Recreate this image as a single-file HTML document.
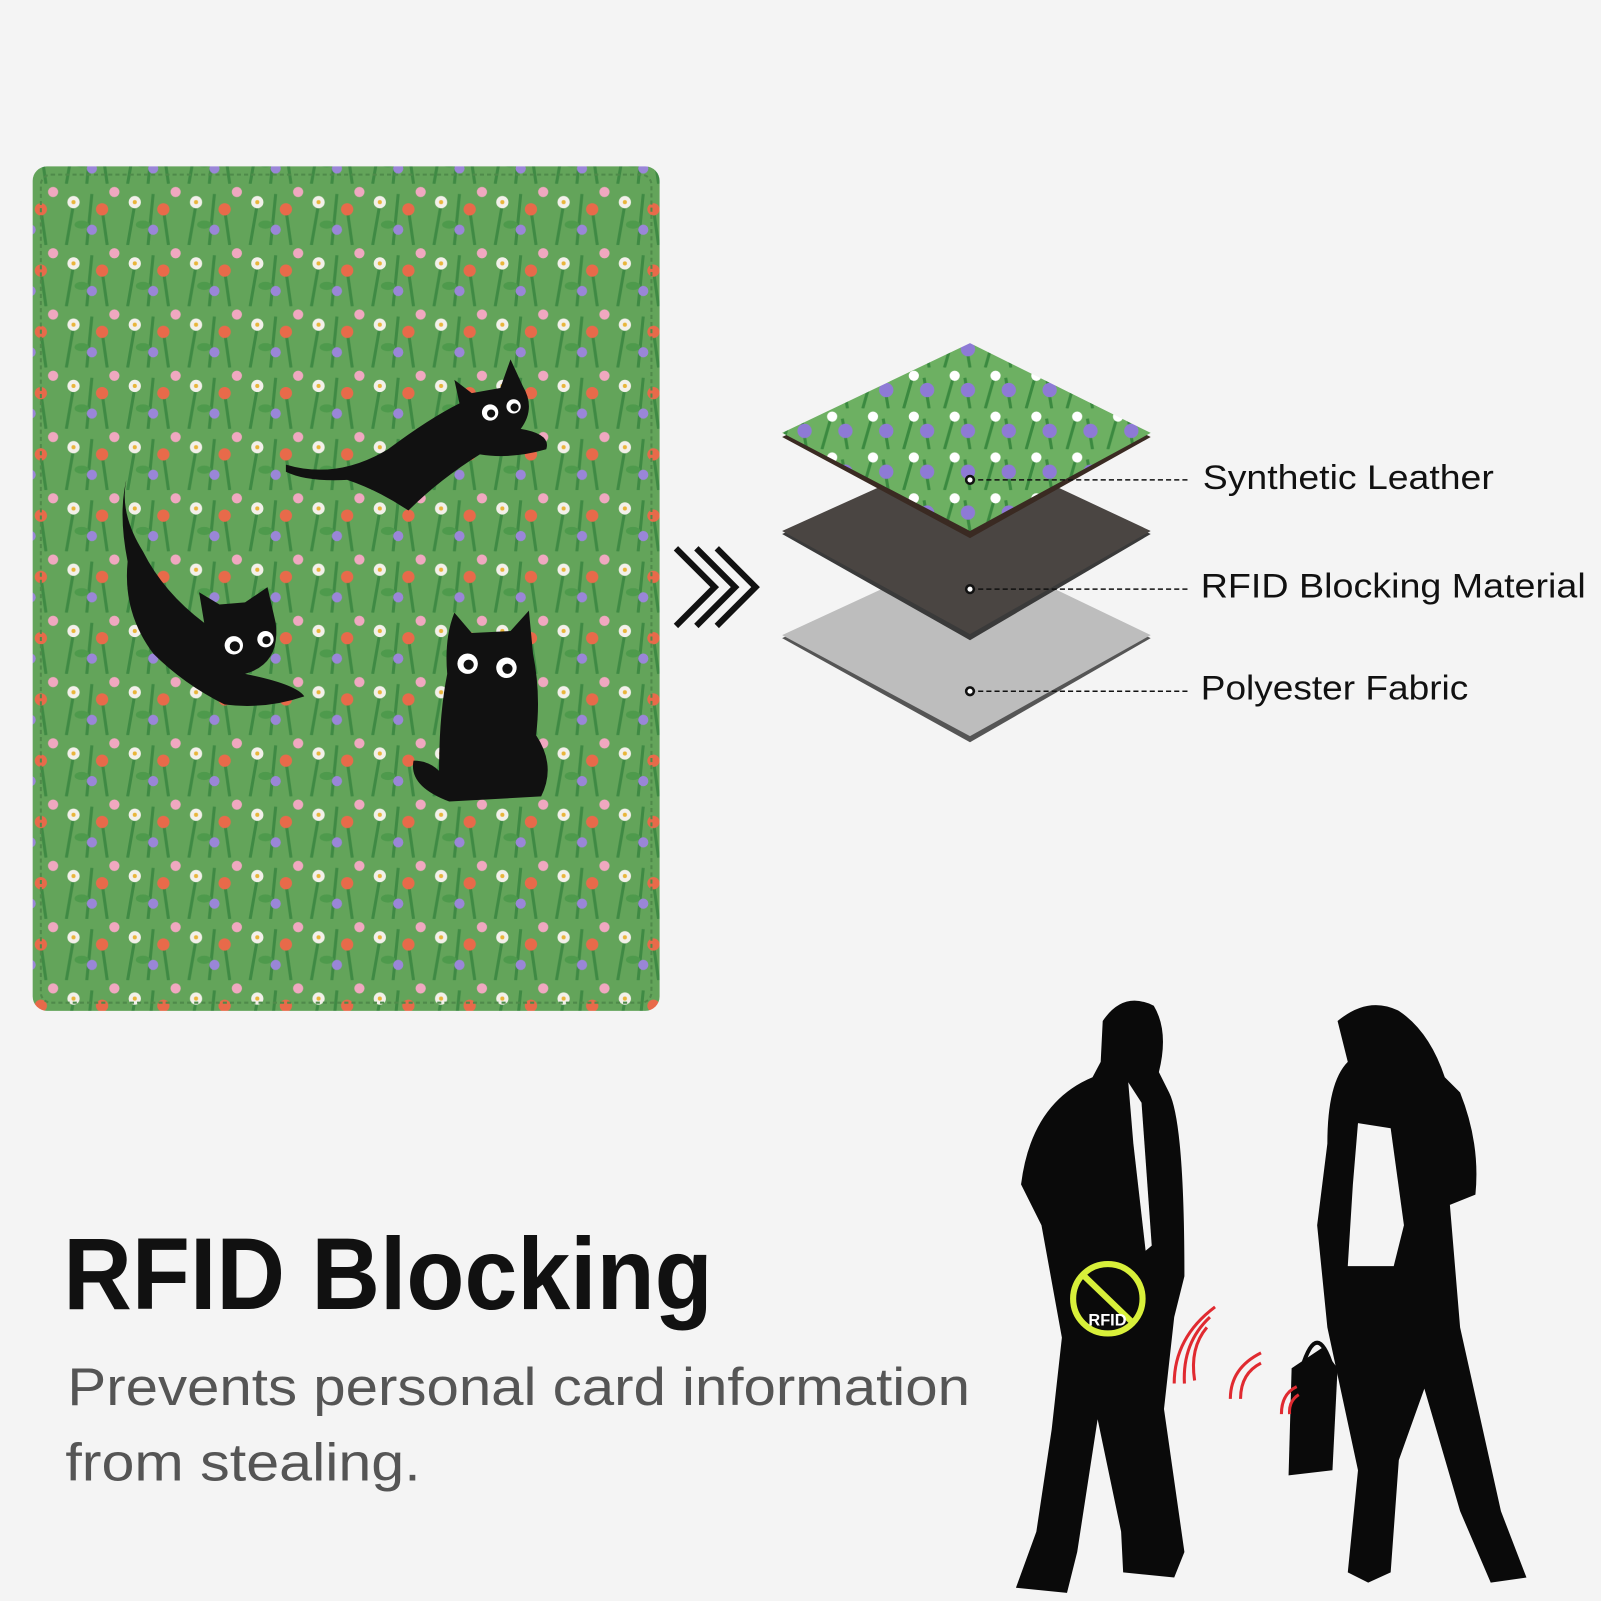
<!DOCTYPE html>
<html><head><meta charset="utf-8"><style>
html,body{margin:0;padding:0;background:#f4f4f4;}
svg{display:block}
text{font-family:"Liberation Sans","DejaVu Sans",sans-serif}
</style></head><body>
<svg width="1601" height="1601" viewBox="0 0 1568 1568" xmlns="http://www.w3.org/2000/svg">
<defs>
<pattern id="fl" width="60" height="60" patternUnits="userSpaceOnUse">
<rect width="60" height="60" fill="#63a45a"/>
<path d="M5 60 L12 20 M25 60 L30 10 M45 60 L40 25" stroke="#3f8a44" stroke-width="3"/>
<circle cx="12" cy="18" r="6" fill="#f3f0ea"/><circle cx="12" cy="18" r="2" fill="#e8b53a"/>
<circle cx="40" cy="25" r="6" fill="#e86a4a"/>
<circle cx="30" cy="45" r="5" fill="#9a86d8"/>
<circle cx="52" cy="8" r="5" fill="#f0a8c0"/>
<ellipse cx="20" cy="40" rx="7" ry="4" fill="#4e9a4c"/>
</pattern>
<pattern id="fl2" width="40" height="40" patternUnits="userSpaceOnUse">
<rect width="40" height="40" fill="#6db062"/>
<path d="M5 40 L15 5 M30 40 L25 10" stroke="#3b8a40" stroke-width="3"/>
<circle cx="15" cy="8" r="5" fill="#fff"/><circle cx="28" cy="22" r="7" fill="#8e7ad6"/>
</pattern>
</defs>
<rect width="1568" height="1568" fill="#f4f4f4"/>
<rect x="32" y="163" width="614" height="827" rx="14" fill="url(#fl)"/>
<rect x="40" y="171" width="598" height="811" rx="10" fill="none" stroke="#4f8a4a" stroke-width="2" stroke-dasharray="4 3"/>
<g fill="#111">
<path d="M280 455 Q330 470 380 440 Q420 410 450 395 L445 372 L462 385 L490 380 L500 352 L512 378 Q525 400 510 420 Q540 425 535 440 Q500 450 470 445 Q430 470 400 500 Q370 480 340 470 Q300 472 280 462Z"/>
<path d="M125 465 Q115 500 140 540 Q160 580 200 610 L195 580 L215 592 L240 590 L262 575 L270 610 Q275 650 240 660 Q290 670 298 682 Q260 695 220 690 Q180 670 150 640 Q120 600 125 550 Q115 500 125 465Z"/>
<path d="M445 600 L462 620 L500 618 L518 598 L522 640 Q530 680 525 720 Q545 750 530 780 L440 785 Q400 770 405 745 Q420 745 430 755 Q430 700 438 660 Q435 625 445 600Z"/>
</g>
<g fill="#fff"><circle cx="480" cy="404" r="8"/><circle cx="503" cy="398" r="7"/><circle cx="229" cy="632" r="9"/><circle cx="260" cy="626" r="8"/><circle cx="458" cy="650" r="10"/><circle cx="496" cy="654" r="10"/></g>
<g fill="#111"><circle cx="481" cy="405" r="4"/><circle cx="504" cy="399" r="4"/><circle cx="230" cy="633" r="5"/><circle cx="261" cy="627" r="4"/><circle cx="459" cy="651" r="5"/><circle cx="497" cy="655" r="5"/></g>
<g fill="none" stroke="#111" stroke-width="6">
<path d="M662 537 L700 575 L662 613"/><path d="M682 537 L720 575 L682 613"/><path d="M702 537 L740 575 L702 613"/>
</g>
<polygon points="766,625 950,540 1127,625 950,727" fill="#555"/>
<polygon points="766,622 950,537 1127,622 950,721" fill="#bdbdbd"/>
<polygon points="766,523 950,440 1127,523 950,627" fill="#3a3a3a"/>
<polygon points="766,520 950,437 1127,520 950,621" fill="#4a4542"/>
<polygon points="766,428 950,340 1127,428 950,527" fill="#3a2a22"/>
<polygon points="766,424 950,336 1127,424 950,520" fill="url(#fl2)"/>
<g stroke="#111" stroke-width="1.5" stroke-dasharray="5 3">
<line x1="950" y1="470" x2="1166" y2="470"/><line x1="950" y1="577" x2="1166" y2="577"/><line x1="950" y1="677" x2="1166" y2="677"/>
</g>
<g fill="#111"><circle cx="950" cy="470" r="5"/><circle cx="950" cy="577" r="5"/><circle cx="950" cy="677" r="5"/></g>
<g fill="#fff"><circle cx="950" cy="470" r="2.5"/><circle cx="950" cy="577" r="2.5"/><circle cx="950" cy="677" r="2.5"/></g>
<g font-size="34" fill="#111">
<text x="1178" y="479" textLength="285" lengthAdjust="spacingAndGlyphs">Synthetic Leather</text>
<text x="1176" y="585" textLength="377" lengthAdjust="spacingAndGlyphs">RFID Blocking Material</text>
<text x="1176" y="685" textLength="262" lengthAdjust="spacingAndGlyphs">Polyester Fabric</text>
</g>
<text x="62" y="1282" font-size="100" fill="#111" font-weight="bold" textLength="636" lengthAdjust="spacingAndGlyphs">RFID Blocking</text>
<text x="66" y="1376" font-size="52" fill="#555" textLength="884" lengthAdjust="spacingAndGlyphs">Prevents personal card information</text>
<text x="64" y="1450" font-size="52" fill="#555" textLength="348" lengthAdjust="spacingAndGlyphs">from stealing.</text>
<path fill="#0a0a0a" d="M1080 1000 Q1100 970 1130 985 Q1145 1010 1135 1050 L1145 1070 Q1160 1100 1160 1250 L1150 1290 L1140 1380 L1160 1520 L1150 1545 L1100 1540 L1098 1500 L1075 1390 L1055 1520 L1045 1560 L995 1555 L1015 1500 L1030 1400 L1040 1310 L1020 1200 L1000 1160 Q1010 1080 1070 1055 L1078 1040Z"/>
<path fill="#f4f4f4" d="M1105 1060 L1118 1080 L1128 1220 L1122 1225 L1110 1120Z"/>
<circle cx="1085" cy="1272" r="34" fill="none" stroke="#d8f03a" stroke-width="6"/>
<line x1="1060" y1="1248" x2="1110" y2="1296" stroke="#d8f03a" stroke-width="6"/>
<text x="1066" y="1298" font-size="16" fill="#fff" font-weight="bold">RFID</text>
<path fill="#0a0a0a" d="M1310 1000 Q1340 975 1370 990 Q1400 1010 1415 1055 L1430 1070 Q1450 1120 1445 1170 L1420 1180 L1430 1300 L1470 1480 L1495 1545 L1460 1550 L1430 1480 L1395 1360 L1370 1430 L1362 1540 L1340 1550 L1320 1540 L1330 1440 L1300 1300 L1290 1200 L1300 1120 Q1300 1060 1320 1040Z"/>
<path fill="#f4f4f4" d="M1330 1100 L1362 1105 L1375 1200 L1365 1240 L1320 1240 L1325 1160Z"/>
<path fill="#0a0a0a" d="M1265 1340 L1295 1320 L1310 1340 L1305 1440 L1262 1445Z"/>
<path d="M1275 1340 Q1290 1290 1305 1340" fill="none" stroke="#0a0a0a" stroke-width="4"/>
<g fill="none" stroke="#e02a30" stroke-width="3">
<path d="M1190 1280 Q1150 1310 1150 1355"/><path d="M1185 1290 Q1158 1315 1160 1355"/><path d="M1182 1300 Q1165 1320 1170 1352"/>
<path d="M1235 1325 Q1205 1340 1205 1370"/><path d="M1235 1335 Q1215 1345 1215 1370"/>
<path d="M1270 1358 Q1255 1365 1255 1385"/><path d="M1272 1366 Q1262 1372 1263 1385"/>
</g>
</svg>
</body></html>
